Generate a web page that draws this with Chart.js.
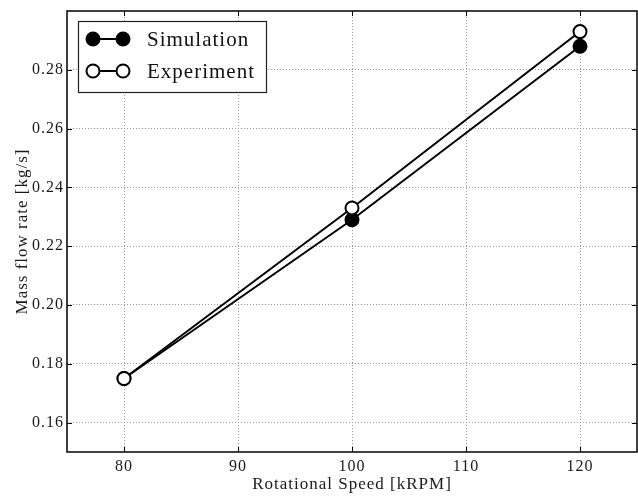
<!DOCTYPE html>
<html>
<head>
<meta charset="utf-8">
<script src="https://cdn.jsdelivr.net/npm/chart.js@4"></script>
<style>
  html, body { margin: 0; padding: 0; background: #fff; }
  #wrap { width: 638px; height: 498px; }
</style>
</head>
<body>
<div id="wrap"><canvas id="chart" width="638" height="498"></canvas></div>
<script>
// Rotational speed [kRPM]
const speeds = [80, 100, 120];
// Mass flow rate [kg/s]
const simulation = [0.175, 0.229, 0.288];
const experiment = [0.175, 0.233, 0.293];
const xTicks = [80, 90, 100, 110, 120];
const yTicks = [0.16, 0.18, 0.20, 0.22, 0.24, 0.26, 0.28];

const serif = "'Liberation Serif', 'DejaVu Serif', serif";

// Palatino in the original is wider than Times, so space the letters a bit
const spacingPlugin = {
    id: 'spacing',
    beforeLayout(chart) { chart.ctx.letterSpacing = '1px'; },
    beforeDraw(chart) { chart.ctx.letterSpacing = '1px'; }
};

// Frame box, inner tick marks on all four sides + the legend
const framePlugin = {
    id: 'frame',
    afterDraw(chart) {
        const c = chart.ctx;
        const a = chart.chartArea;
        const xs = chart.scales.x, ys = chart.scales.y;
        c.save();
        c.strokeStyle = '#000';
        c.lineWidth = 1;
        c.beginPath();
        xTicks.forEach(v => {
            const px = Math.round(xs.getPixelForValue(v)) + 0.5;
            c.moveTo(px, a.bottom); c.lineTo(px, a.bottom - 5);
            c.moveTo(px, a.top); c.lineTo(px, a.top + 5);
        });
        yTicks.forEach(v => {
            const py = Math.round(ys.getPixelForValue(v)) + 0.5;
            c.moveTo(a.left, py); c.lineTo(a.left + 5, py);
            c.moveTo(a.right, py); c.lineTo(a.right - 5, py);
        });
        c.stroke();
        c.lineWidth = 1.5;
        c.strokeRect(a.left, a.top, a.right - a.left, a.bottom - a.top);

        // legend
        const bx = 78.5, by = 21.5, bw = 188, bh = 71;
        c.fillStyle = '#fff';
        c.fillRect(bx, by, bw, bh);
        c.strokeStyle = '#222';
        c.lineWidth = 1.2;
        c.strokeRect(bx, by, bw, bh);
        chart.data.datasets.forEach((ds, i) => {
            const y = 39 + i * 32;
            const x1 = 93, x2 = 123;
            c.lineWidth = 2;
            c.strokeStyle = '#000';
            c.beginPath(); c.moveTo(x1, y); c.lineTo(x2, y); c.stroke();
            [x1, x2].forEach(x => {
                c.beginPath();
                c.arc(x, y, 6.5, 0, Math.PI * 2);
                c.fillStyle = ds.pointBackgroundColor;
                c.fill();
                c.stroke();
            });
            c.fillStyle = '#111';
            c.font = "21px " + serif;
            c.textBaseline = 'middle';
            c.textAlign = 'left';
            c.fillText(ds.label, 147, y + 1);
        });
        c.restore();
    }
};

const ctx = document.getElementById('chart').getContext('2d');

const chart = new Chart(ctx, {
    type: 'line',
    data: {
        datasets: [{
            label: 'Simulation',
            data: speeds.map((s, i) => ({ x: s, y: simulation[i] })),
            borderColor: '#000',
            borderWidth: 2,
            pointRadius: 6.5,
            pointBackgroundColor: '#000',
            pointBorderColor: '#000',
            pointBorderWidth: 2,
            order: 2
        }, {
            label: 'Experiment',
            data: speeds.map((s, i) => ({ x: s, y: experiment[i] })),
            borderColor: '#000',
            borderWidth: 2,
            pointRadius: 6.5,
            pointBackgroundColor: '#fff',
            pointBorderColor: '#000',
            pointBorderWidth: 2,
            order: 1
        }]
    },
    options: {
        animation: false,
        responsive: false,
        layout: { autoPadding: false, padding: { top: 11, right: 1, left: 0, bottom: 0 } },
        plugins: {
            legend: { display: false },
            tooltip: { enabled: false }
        },
        scales: {
            x: {
                type: 'linear',
                min: 75,
                max: 125,
                afterBuildTicks: s => { s.ticks = xTicks.map(v => ({ value: v })); },
                afterFit: s => { s.height = 46; s.paddingLeft = 0; s.paddingRight = 0; },
                grid: {
                    color: '#999',
                    lineWidth: 1,
                    drawTicks: false
                },
                border: { display: false, dash: [1, 2] },
                ticks: {
                    color: '#1a1a1a',
                    font: { family: serif, size: 16 },
                    padding: 5,
                    maxRotation: 0
                },
                title: {
                    display: true,
                    text: 'Rotational Speed [kRPM]',
                    color: '#1a1a1a',
                    font: { family: serif, size: 17 },
                    padding: { top: 0, bottom: 3 }
                }
            },
            y: {
                min: 0.15,
                max: 0.30,
                afterBuildTicks: s => { s.ticks = yTicks.map(v => ({ value: v })); },
                afterFit: s => { s.width = 67; s.paddingTop = 0; s.paddingBottom = 0; },
                grid: {
                    color: '#999',
                    lineWidth: 1,
                    drawTicks: false
                },
                border: { display: false, dash: [1, 2] },
                ticks: {
                    color: '#1a1a1a',
                    font: { family: serif, size: 16 },
                    padding: 3,
                    callback: v => v.toFixed(2)
                },
                title: {
                    display: true,
                    text: 'Mass flow rate [kg/s]',
                    color: '#1a1a1a',
                    font: { family: serif, size: 17 },
                    padding: { top: 12, bottom: 0 }
                }
            }
        }
    },
    plugins: [spacingPlugin, framePlugin]
});
</script>
</body>
</html>
